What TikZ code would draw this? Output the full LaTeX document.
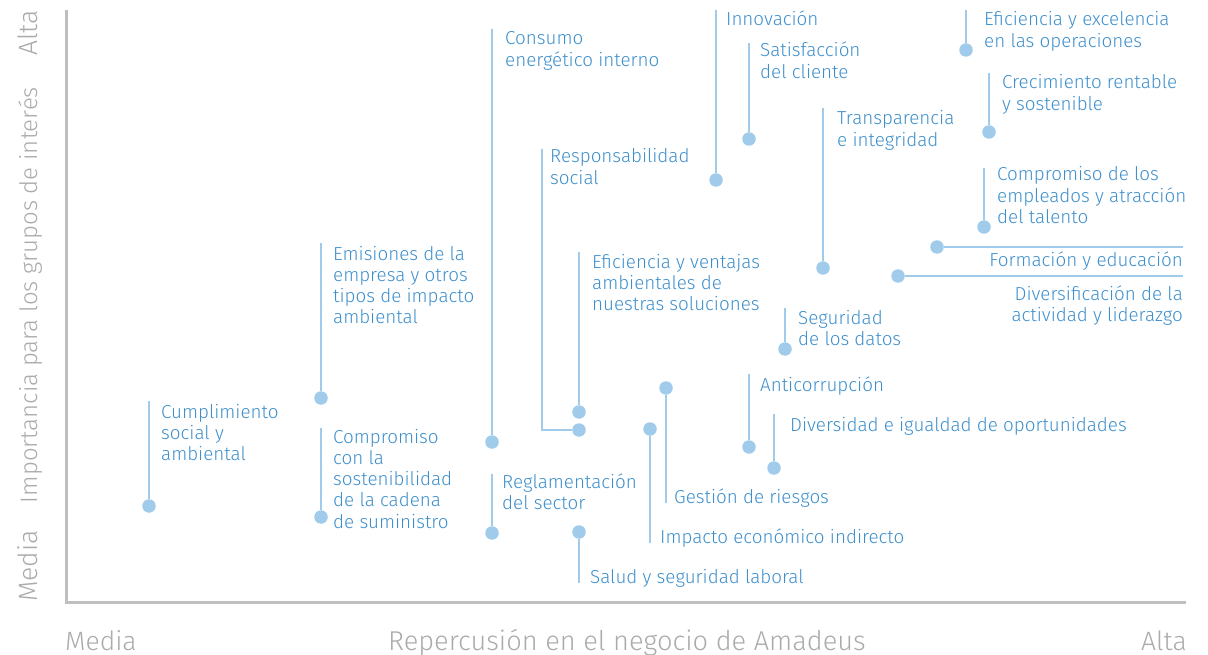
\documentclass[tikz,border=0pt]{standalone}
\usepackage{fontspec}
\IfFontExistsTF{Fira Sans Light}{\setmainfont{Fira Sans Light}}{\setmainfont{Fira Sans}}

\definecolor{dotBlue}{HTML}{A0CBEA}
\definecolor{textBlue}{HTML}{3D8FCC}
\definecolor{axisGray}{HTML}{BFBFBF}
\definecolor{labelGray}{HTML}{ABABAB}

\begin{document}
\begin{tikzpicture}[x=1pt,y=-1pt,
  dot/.style={circle,fill=dotBlue,inner sep=0pt,minimum size=13.5pt},
  stem/.style={draw=dotBlue,line width=2pt},
  topic/.style={anchor=base west,align=left,inner sep=0pt,text=textBlue,
    font=\fontsize{18.8}{21.3}\selectfont},
  topicR/.style={topic,anchor=base east,align=right},
  axislabel/.style={inner sep=0pt,text=labelGray,font=\fontsize{26.5}{30}\selectfont}]

\useasboundingbox (0,0) rectangle (1208,655);

% Draw x and y axis lines
\coordinate (origin) at (66,602);
\coordinate (yEnd) at (66,10);
\coordinate (xEnd) at (1186,602);
\draw [axisGray, line width=3pt] (yEnd) -- (origin) -- (xEnd);

\node[axislabel, anchor=base west] (xLow) at (65,650) {Media};
\node[axislabel, anchor=base, font=\fontsize{27.2}{30}\selectfont] (xTitle) at (627,650) {Repercusión en el negocio de Amadeus};
\node[axislabel, anchor=base east] (xHigh) at (1187,650) {Alta};
\node[axislabel, rotate=90, anchor=base west] (yLow) at (37,602) {Media};
\node[axislabel, rotate=90, anchor=base, font=\fontsize{24}{28}\selectfont] (yTitle) at (37,295) {Importancia para los grupos de interés};
\node[axislabel, rotate=90, anchor=base east] (yHigh) at (37,10) {Alta};

% Topics, left column (text anchored on its last baseline)
\coordinate (cumpTop) at (149,401);
\node[dot] (cump) at (149,506) {};
\draw[stem] (cumpTop) -- (cump);
\node[topic] (cumpText) at (161,460.6) {Cumplimiento\\social y\\ambiental};

\coordinate (emisTop) at (321,243);
\node[dot] (emis) at (321,398) {};
\draw[stem] (emisTop) -- (emis);
\node[topic] (emisText) at (333,323.9) {Emisiones de la\\empresa y otros\\tipos de impacto\\ambiental};

\coordinate (cadTop) at (321,428);
\node[dot] (cad) at (321,517) {};
\draw[stem] (cadTop) -- (cad);
\node[topic] (cadText) at (333,528.2) {Compromiso\\con la\\sostenibilidad\\de la cadena\\de suministro};

% Topics, middle
\coordinate (consTop) at (492,29);
\node[dot] (cons) at (492,442) {};
\draw[stem] (consTop) -- (cons);
\node[topic] (consText) at (505,66.3) {Consumo\\energético interno};

\coordinate (reglTop) at (492,474);
\node[dot] (regl) at (492,533) {};
\draw[stem] (reglTop) -- (regl);
\node[topic] (reglText) at (502,509.3) {Reglamentación\\del sector};

\coordinate (respTop) at (542,149);
\node[dot] (resp) at (579,430) {};
\draw[stem] (respTop) |- (resp);
\node[topic] (respText) at (550,184.3) {Responsabilidad\\social};

\coordinate (efvTop) at (579,252);
\node[dot] (efv) at (579,412) {};
\draw[stem] (efvTop) -- (efv);
\node[topic] (efvText) at (592,310.6) {Eficiencia y ventajas\\ambientales de\\nuestras soluciones};

\node[dot] (salud) at (579,532) {};
\coordinate (saludEnd) at (579,583);
\draw[stem] (salud) -- (saludEnd);
\node[topic] (saludText) at (590,583) {Salud y seguridad laboral};

\node[dot] (riesg) at (666,388) {};
\coordinate (riesgEnd) at (666,503);
\draw[stem] (riesg) -- (riesgEnd);
\node[topic] (riesgText) at (674,503) {Gestión de riesgos};

\node[dot] (impac) at (650,429) {};
\coordinate (impacEnd) at (650,543);
\draw[stem] (impac) -- (impacEnd);
\node[topic] (impacText) at (660,543) {Impacto económico indirecto};

\coordinate (innoTop) at (716,10);
\node[dot] (inno) at (716,180) {};
\draw[stem] (innoTop) -- (inno);
\node[topic] (innoText) at (726,26) {Innovación};

\coordinate (satTop) at (749,43);
\node[dot] (sat) at (749,139) {};
\draw[stem] (satTop) -- (sat);
\node[topic] (satText) at (760,78.3) {Satisfacción\\del cliente};

\coordinate (transTop) at (823,108);
\node[dot] (trans) at (823,268) {};
\draw[stem] (transTop) -- (trans);
\node[topic] (transText) at (837,146.3) {Transparencia\\e integridad};

\coordinate (datosTop) at (785,308);
\node[dot] (datos) at (785,349) {};
\draw[stem] (datosTop) -- (datos);
\node[topic] (datosText) at (798,345.3) {Seguridad\\de los datos};

\coordinate (antiTop) at (749,374);
\node[dot] (anti) at (749,447) {};
\draw[stem] (antiTop) -- (anti);
\node[topic] (antiText) at (760,391) {Anticorrupción};

\coordinate (diverTop) at (774,414);
\node[dot] (diver) at (774,468) {};
\draw[stem] (diverTop) -- (diver);
\node[topic] (diverText) at (790,431) {Diversidad e igualdad de oportunidades};

% Topics, right column
\coordinate (excTop) at (966,10);
\node[dot] (exc) at (966,50) {};
\draw[stem] (excTop) -- (exc);
\node[topic] (excText) at (984,47.3) {Eficiencia y excelencia\\en las operaciones};

\coordinate (crecTop) at (989,73);
\node[dot] (crec) at (989,132) {};
\draw[stem] (crecTop) -- (crec);
\node[topic] (crecText) at (1002,110.3) {Crecimiento rentable\\y sostenible};

\coordinate (emplTop) at (984,168);
\node[dot] (empl) at (984,227) {};
\draw[stem] (emplTop) -- (empl);
\node[topic] (emplText) at (997,223.6) {Compromiso de los\\empleados y atracción\\del talento};

\node[dot] (form) at (937,247) {};
\coordinate (formEnd) at (1183,247);
\draw[stem] (form) -- (formEnd);
\node[topicR] (formText) at (1183,267) {Formación y educación};

\node[dot] (divers) at (898,276) {};
\coordinate (diversEnd) at (1183,276);
\draw[stem] (divers) -- (diversEnd);
\node[topicR] (diversText) at (1183,321.3) {Diversificación de la\\actividad y liderazgo};

\end{tikzpicture}
\end{document}
